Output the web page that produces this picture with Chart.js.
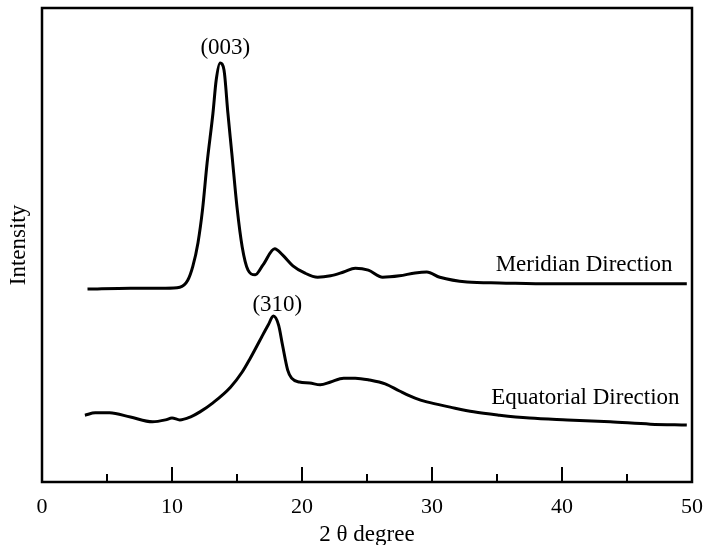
<!DOCTYPE html>
<html>
<head>
<meta charset="utf-8">
<script src="https://cdn.jsdelivr.net/npm/chart.js@4"></script>
<style>
    html, body { margin: 0; padding: 0; background: #fff; }
    #wrap { width: 704px; height: 545px; }
</style>
</head>
<body>
<div id="wrap"><canvas id="grafico" width="704" height="545"></canvas></div>
<script>
// 2θ values (degree) and intensity (arbitrary units)
const meridianX = [3.5, 6.8, 9.5, 10.6, 11.2, 11.6, 12.0, 12.35, 12.7, 13.15, 13.4, 13.7, 14.0, 14.3, 14.6, 15.0, 15.4, 15.85, 16.4, 17.0, 17.9, 18.5, 19.3, 20.2, 21.2, 22.2, 23.2, 24.1, 25.1, 26.2, 27.5, 28.7, 29.6, 30.6, 32.7, 35.2, 39.1, 42.9, 46.8, 49.6];
const meridianY = [40.7, 40.9, 40.9, 41.1, 42.5, 45.5, 50.5, 57.5, 67.3, 77.8, 84.8, 88.4, 86.9, 77.8, 69.4, 58.0, 49.6, 44.7, 43.7, 45.8, 49.2, 47.9, 45.6, 44.1, 43.2, 43.5, 44.3, 45.1, 44.7, 43.2, 43.5, 44.1, 44.3, 43.2, 42.2, 42.0, 41.8, 41.8, 41.8, 41.8];

const equatorialX = [3.3, 4.1, 5.2, 6.8, 8.5, 9.5, 10.0, 10.6, 11.4, 12.15, 13.15, 14.5, 15.4, 16.0, 16.9, 17.4, 17.8, 18.2, 18.5, 18.9, 19.2, 19.8, 20.6, 21.4, 22.2, 23.2, 24.1, 25.2, 26.4, 27.5, 28.7, 29.6, 31.4, 33.2, 35.2, 37.5, 40.4, 43.7, 46.8, 49.6];
const equatorialY = [14.1, 14.6, 14.6, 13.7, 12.7, 13.1, 13.5, 13.1, 13.7, 14.8, 16.7, 20.0, 23.2, 26.0, 30.6, 33.1, 35.0, 33.1, 28.9, 23.6, 21.9, 21.1, 20.9, 20.5, 21.1, 21.9, 21.9, 21.5, 20.7, 19.2, 17.7, 16.9, 15.8, 14.8, 14.1, 13.5, 13.1, 12.7, 12.2, 12.0];

const xTicks = [0, 10, 20, 30, 40, 50];
const minorTicks = [5, 15, 25, 35, 45];

// peak / curve labels, placed in data units
const curveLabels = [
    { text: '(003)', x: 14.1, y: 91.6 },
    { text: '(310)', x: 18.1, y: 37.3 },
    { text: 'Meridian Direction', x: 41.7, y: 45.8 },
    { text: 'Equatorial Direction', x: 41.8, y: 17.7 }
];

const serif = "'Liberation Serif', 'Times New Roman', serif";

function pontos(xs, ys) {
    return xs.map((v, i) => ({ x: v, y: ys[i] }));
}

// moldura, marcas internas e rótulos
const molduraPlugin = {
    id: 'moldura',
    afterDraw(chart) {
        const ctx = chart.ctx;
        const area = chart.chartArea;
        const xs = chart.scales.x;
        const ys = chart.scales.y;
        ctx.save();
        ctx.strokeStyle = '#000';
        ctx.lineWidth = 2.5;
        ctx.strokeRect(area.left, area.top, area.right - area.left, area.bottom - area.top);

        ctx.lineWidth = 2;
        xTicks.slice(1, -1).forEach(v => {
            const px = Math.round(xs.getPixelForValue(v));
            ctx.beginPath();
            ctx.moveTo(px, area.bottom);
            ctx.lineTo(px, area.bottom - 15);
            ctx.stroke();
        });
        minorTicks.forEach(v => {
            const px = Math.round(xs.getPixelForValue(v));
            ctx.beginPath();
            ctx.moveTo(px, area.bottom);
            ctx.lineTo(px, area.bottom - 8);
            ctx.stroke();
        });

        ctx.fillStyle = '#000';
        ctx.font = '23px ' + serif;
        ctx.textAlign = 'center';
        ctx.textBaseline = 'middle';
        curveLabels.forEach(l => {
            ctx.fillText(l.text, xs.getPixelForValue(l.x), ys.getPixelForValue(l.y));
        });
        ctx.restore();
    }
};

const ctx = document.getElementById('grafico').getContext('2d');
window.grafico = new Chart(ctx, {
    type: 'line',
    data: {
        datasets: [
            {
                label: 'Meridian Direction',
                data: pontos(meridianX, meridianY),
                borderColor: '#000',
                borderWidth: 3,
                pointRadius: 0,
                cubicInterpolationMode: 'monotone',
                fill: false
            },
            {
                label: 'Equatorial Direction',
                data: pontos(equatorialX, equatorialY),
                borderColor: '#000',
                borderWidth: 3,
                pointRadius: 0,
                cubicInterpolationMode: 'monotone',
                fill: false
            }
        ]
    },
    options: {
        responsive: false,
        animation: false,
        layout: { padding: { top: 8, right: 12, left: 0, bottom: 0 } },
        plugins: {
            legend: { display: false },
            tooltip: { enabled: false }
        },
        scales: {
            x: {
                type: 'linear',
                min: 0,
                max: 50,
                afterFit(scale) {
                    scale.height = 63;
                    scale.paddingLeft = 0;
                    scale.paddingRight = 0;
                },
                grid: { display: false, drawTicks: false },
                border: { display: false },
                ticks: {
                    stepSize: 10,
                    padding: 12,
                    color: '#000',
                    maxRotation: 0,
                    font: { family: serif, size: 22 }
                },
                title: {
                    display: true,
                    text: '2 θ degree',
                    color: '#000',
                    padding: { top: 0, bottom: 0 },
                    font: { family: serif, size: 23, lineHeight: 0.9 }
                }
            },
            y: {
                min: 0,
                max: 100,
                afterFit(scale) { scale.width = 42; },
                grid: { display: false, drawTicks: false },
                border: { display: false },
                ticks: { display: false },
                title: {
                    display: true,
                    text: 'Intensity',
                    color: '#000',
                    padding: { top: 5, bottom: 0 },
                    font: { family: serif, size: 23 }
                }
            }
        }
    },
    plugins: [molduraPlugin]
});
</script>
</body>
</html>
